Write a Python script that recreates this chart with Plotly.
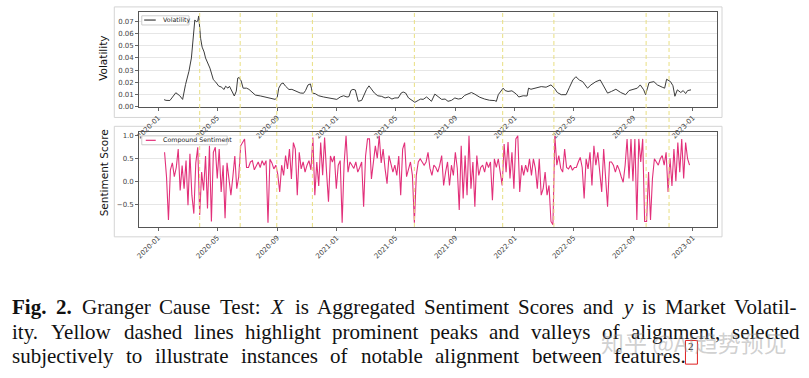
import pandas as pd
import plotly.graph_objects as go

W, H = 809, 378

vol_dates = [
    "2020-01-13", "2020-01-17", "2020-01-25", "2020-02-06", "2020-02-14", "2020-02-20", "2020-02-26",
    "2020-03-04", "2020-03-09", "2020-03-12", "2020-03-14", "2020-03-16", "2020-03-19", "2020-03-22",
    "2020-03-24", "2020-03-25", "2020-03-28", "2020-03-31", "2020-04-04", "2020-04-07", "2020-04-12",
    "2020-04-16", "2020-04-19", "2020-04-23", "2020-04-28", "2020-05-04", "2020-05-09", "2020-05-15",
    "2020-05-18", "2020-05-23", "2020-05-26", "2020-06-01", "2020-06-05", "2020-06-09", "2020-06-12",
    "2020-06-15", "2020-06-19", "2020-06-23", "2020-06-30", "2020-07-05", "2020-07-12", "2020-07-18",
    "2020-07-29", "2020-08-08", "2020-08-18", "2020-08-28", "2020-09-01", "2020-09-04", "2020-09-09",
    "2020-09-13", "2020-09-18", "2020-09-25", "2020-10-01", "2020-10-08", "2020-10-11", "2020-10-18",
    "2020-10-25", "2020-10-29", "2020-11-03", "2020-11-08", "2020-11-10", "2020-11-12", "2020-11-18",
    "2020-11-25", "2020-12-05", "2020-12-15", "2020-12-25", "2021-01-01", "2021-01-08", "2021-01-15",
    "2021-01-22", "2021-01-26", "2021-01-30", "2021-02-03", "2021-02-08", "2021-02-11", "2021-02-14",
    "2021-02-21", "2021-02-27", "2021-03-03", "2021-03-08", "2021-03-14", "2021-03-19", "2021-03-26",
    "2021-04-03", "2021-04-10", "2021-04-17", "2021-04-24", "2021-04-30", "2021-05-07", "2021-05-13",
    "2021-05-17", "2021-05-22", "2021-05-28", "2021-06-03", "2021-06-10", "2021-06-17", "2021-06-22",
    "2021-06-27", "2021-07-04", "2021-07-09", "2021-07-14", "2021-07-21", "2021-07-28", "2021-08-04",
    "2021-08-11", "2021-08-17", "2021-08-24", "2021-08-31", "2021-09-07", "2021-09-14", "2021-09-20",
    "2021-09-27", "2021-10-04", "2021-10-11", "2021-10-21", "2021-10-31", "2021-11-10", "2021-11-21",
    "2021-11-24", "2021-11-28", "2021-12-03", "2021-12-08", "2021-12-12", "2021-12-18", "2021-12-26",
    "2022-01-04", "2022-01-09", "2022-01-18", "2022-01-26", "2022-01-29", "2022-02-03", "2022-02-14",
    "2022-02-24", "2022-03-06", "2022-03-16", "2022-03-23", "2022-03-29", "2022-04-06", "2022-04-16",
    "2022-04-23", "2022-04-30", "2022-05-06", "2022-05-13", "2022-05-20", "2022-05-30", "2022-06-06",
    "2022-06-16", "2022-06-25", "2022-07-03", "2022-07-10", "2022-07-18", "2022-07-27", "2022-08-06",
    "2022-08-16", "2022-08-23", "2022-09-02", "2022-09-09", "2022-09-15", "2022-09-22", "2022-09-26",
    "2022-10-03", "2022-10-13", "2022-10-20", "2022-10-30", "2022-11-04", "2022-11-08", "2022-11-16",
    "2022-11-21", "2022-11-25", "2022-11-30", "2022-12-07", "2022-12-12", "2022-12-17", "2022-12-21",
    "2022-12-28",
]
vol_values = [
    0.0055, 0.0049, 0.0048, 0.0112, 0.0088, 0.0057, 0.0180,
    0.0290, 0.0400, 0.0530, 0.0670, 0.0715, 0.0700, 0.0705,
    0.0748, 0.0690, 0.0560, 0.0490, 0.0450, 0.0400, 0.0357,
    0.0316, 0.0275, 0.0220, 0.0200, 0.0167, 0.0160, 0.0139,
    0.0166, 0.0150, 0.0166, 0.0112, 0.0085, 0.0125, 0.0234,
    0.0238, 0.0210, 0.0150, 0.0150, 0.0140, 0.0112, 0.0093,
    0.0085, 0.0077, 0.0065, 0.0057, 0.0077, 0.0150, 0.0186,
    0.0193, 0.0166, 0.0139, 0.0140, 0.0125, 0.0118, 0.0110,
    0.0108, 0.0131, 0.0177, 0.0185, 0.0150, 0.0110, 0.0104,
    0.0087, 0.0077, 0.0069, 0.0060, 0.0057, 0.0077, 0.0087,
    0.0077, 0.0080, 0.0131, 0.0140, 0.0135, 0.0080, 0.0041,
    0.0049, 0.0110, 0.0140, 0.0169, 0.0131, 0.0110, 0.0087,
    0.0082, 0.0069, 0.0077, 0.0060, 0.0069, 0.0069, 0.0110,
    0.0118, 0.0110, 0.0069, 0.0049, 0.0033, 0.0049, 0.0060,
    0.0057, 0.0077, 0.0060, 0.0041, 0.0101, 0.0077, 0.0057,
    0.0060, 0.0041, 0.0049, 0.0069, 0.0060, 0.0065, 0.0090,
    0.0105, 0.0114, 0.0100, 0.0075, 0.0060, 0.0050, 0.0047,
    0.0040, 0.0096, 0.0123, 0.0150, 0.0130, 0.0123, 0.0128,
    0.0101, 0.0077, 0.0087, 0.0085, 0.0150, 0.0141, 0.0150,
    0.0163, 0.0158, 0.0177, 0.0150, 0.0114, 0.0096, 0.0096,
    0.0158, 0.0218, 0.0245, 0.0218, 0.0204, 0.0150, 0.0177,
    0.0204, 0.0218, 0.0163, 0.0109, 0.0123, 0.0141, 0.0114,
    0.0096, 0.0130, 0.0141, 0.0150, 0.0177, 0.0136, 0.0096,
    0.0196, 0.0204, 0.0177, 0.0158, 0.0150, 0.0224, 0.0204,
    0.0170, 0.0083, 0.0136, 0.0114, 0.0130, 0.0105, 0.0130,
    0.0136,
]

sent_values = [
    0.63, 0.1, -0.84, 0.25, 0.4, 0.1, 0.3, 0.7, -0.2, 0.34,
    -0.16, 0.45, -0.52, 0.6, -0.3, -0.7, 0.4, 0.74, -0.73, 0.2,
    -0.2, 0.55, -0.59, 0.77, -0.87, 0.63, 0.74, 0.06, 0.7, -0.23,
    0.35, -0.8, 0.4, 0.1, -0.3, 0.1, 0.55, -0.16, 0.1, 0.77,
    0.84, 0.92, 0.3, 0.3, 0.42, 0.45, 0.25, 0.35, 0.42, 0.3,
    0.45, 0.35, 0.45, -0.9, 0.48, 0.4, 0.27, 0.35, 0.15, -0.23,
    0.35, 0.13, 0.56, 0.27, 0.7, 0.05, 0.84, 0.7, -0.3, 0.63,
    0.27, 0.42, 0.2, 0.35, 0.45, 0.25, 0.95, -0.3, 0.42, -0.1,
    0.84, 0.13, 0.95, 0.2, -0.44, 0.55, 0.42, 0.55, -0.16, 0.35,
    0.45, -0.9, 0.38, 0.99, 0.2, 0.42, 0.35, 0.28, 0.42, 0.2,
    0.3, 0.42, -0.55, 0.55, 0.92, 0.92, 0.05, 0.49, 0.77, 0.5,
    0.99, 0.4, 0.7, 0.27, -0.05, 0.56, 0.35, 0.2, 0.35, 0.13,
    0.55, -0.3, 0.7, 0.84, 0.1, 0.27, 0.42, 0.13, -0.9, 0.13,
    0.42, 0.49, 0.42, 0.35, 0.42, 0.63, 0.28, 0.13, 0.35, 0.3,
    0.2, 0.35, 0.56, -0.09, 0.2, 0.42, -0.09, 0.35, 0.13, 0.63,
    0.28, -0.62, 0.77, -0.37, 0.56, -0.3, 0.99, -0.16, 0.42, -0.55,
    0.56, 0.13, 0.3, 0.35, 0.2, 0.42, 0.3, 0.42, -0.41, 0.49,
    0.3, 0.49, 0.2, -0.09, 0.81, 0.2, 0.85, 0.06, 0.63, -0.16,
    0.92, 0.99, -0.23, 0.35, 0.13, 0.35, 0.2, 0.49, 0.13, 0.49,
    0.28, -0.16, 0.49, -0.3, -0.16, 0.2, -0.3, -0.09, -0.87, -0.94,
    0.99, 0.35, 0.56, 0.28, 0.2, 0.7, 0.3, 0.27, 0.35, 0.24,
    0.3, 0.3, 0.42, 0.52, 0.3, -0.37, 0.49, 0.27, 0.63, -0.09,
    0.77, 0.35, 0.63, 0.2, -0.23, 0.7, 0.1, -0.55, 0.42, 0.42,
    0.35, 0.2, 0.35, 0.25, 0.1, -0.02, 0.35, 0.92, 0.06, 0.92,
    0.0, 0.92, -0.84, 0.92, 0.42, 0.92, -0.87, -0.87, 0.2, -0.84,
    0.06, 0.49, 0.42, 0.35, 0.49, 0.56, 0.35, 0.63, -0.23, 0.5,
    -0.1, 0.7, 0.0, 0.84, 0.2, 0.92, 0.06, 0.84, 0.49, 0.35,
]
sent_dates = pd.date_range("2020-01-14", periods=len(sent_values), freq="4D")

highlight_dates = ["2020-03-26", "2020-06-17", "2020-08-31", "2020-11-12", "2021-06-09",
                   "2021-12-07", "2022-03-22", "2022-09-27", "2022-11-13"]

x_tick_dates = ["2020-01-01", "2020-05-01", "2020-09-01", "2021-01-01", "2021-05-01", "2021-09-01",
                "2022-01-01", "2022-05-01", "2022-09-01", "2023-01-01"]
vol_ticks = [0.0, 0.01, 0.02, 0.03, 0.04, 0.05, 0.06, 0.07]
sent_ticks = [-0.5, 0.0, 0.5, 1.0]
sent_tick_text = ["\u22120.5", "0.0", "0.5", "1.0"]

caption_lines = [
    [("Fig.", "b"), ("2.", "b"), ("Granger", ""), ("Cause", ""), ("Test:", ""), ("X", "i"),
     ("is", ""), ("Aggregated", ""), ("Sentiment", ""), ("Scores", ""), ("and", ""), ("y", "i"),
     ("is", ""), ("Market", ""), ("Volatil-", "")],
    [("ity.", ""), ("Yellow", ""), ("dashed", ""), ("lines", ""), ("highlight", ""),
     ("prominent", ""), ("peaks", ""), ("and", ""), ("valleys", ""), ("of", ""),
     ("alignment,", ""), ("selected", "")],
    [("subjectively", ""), ("to", ""), ("illustrate", ""), ("instances", ""), ("of", ""),
     ("notable", ""), ("alignment", ""), ("between", ""), ("features.", "")],
]


def px(x):
    return x / W


def py(y):
    return 1 - y / H


TW = dict(zip("abcdefghijklmnopqrstuvwxyz",
              [444, 500, 444, 500, 444, 333, 500, 500, 278, 278, 500, 278, 778, 500, 500, 500,
               500, 333, 389, 278, 500, 500, 722, 500, 500, 444]))
TW.update(dict(zip("ABCDEFGHIJKLMNOPQRSTUVWXYZ",
                   [722, 667, 667, 722, 611, 556, 722, 722, 333, 389, 722, 611, 889, 722, 722,
                    556, 722, 667, 556, 611, 722, 722, 944, 722, 722, 611])))
TW.update({".": 250, ",": 250, ":": 278, "-": 333, "2": 500, " ": 250})


def word_width(w, size, style):
    f = 1.06 if style == "b" else 1.0
    return sum(TW.get(c, 500) for c in w) / 1000 * size * f


VOL_COLOR = "#3c3c3c"
SENT_COLOR = "#e2307a"
HL_COLOR = "#e9df80"
TICK_FONT = dict(family="DejaVu Sans", size=7, color="#444444")

fig = go.Figure()
fig.add_trace(go.Scatter(x=vol_dates, y=vol_values, mode="lines", name="Volatility",
                         line=dict(color=VOL_COLOR, width=1), xaxis="x", yaxis="y",
                         showlegend=False))
fig.add_trace(go.Scatter(x=sent_dates, y=sent_values, mode="lines", name="Compound Sentiment",
                         line=dict(color=SENT_COLOR, width=1.1), xaxis="x2", yaxis="y2",
                         showlegend=False))

x_dom = [px(136.7), px(717)]
common_x = dict(type="date", range=["2019-11-23", "2023-02-20"], tickvals=x_tick_dates,
                tickformat="%Y-%m", tickangle=-45, ticks="outside", ticklen=3, tickcolor="#666",
                showline=True, mirror=True, linecolor="#555", linewidth=1, showgrid=False,
                zeroline=False, tickfont=TICK_FONT, domain=x_dom)
common_y = dict(ticks="outside", ticklen=3, tickcolor="#666", showline=True, mirror=True,
                linecolor="#555", linewidth=1, showgrid=True, gridcolor="#e6e6e6", gridwidth=1,
                zeroline=False, tickfont=TICK_FONT)

fig.update_layout(
    width=W, height=H, margin=dict(l=0, r=0, t=0, b=0),
    paper_bgcolor="white", plot_bgcolor="white", showlegend=False,
    xaxis=dict(common_x, anchor="y"),
    yaxis=dict(common_y, anchor="x", domain=[py(107.3), py(11)], range=[-0.0005, 0.0782],
               tickvals=vol_ticks, tickformat=".2f"),
    xaxis2=dict(common_x, anchor="y2"),
    yaxis2=dict(common_y, anchor="x2", domain=[py(229), py(133)], range=[-0.99, 1.065],
                tickvals=sent_ticks, ticktext=sent_tick_text),
)

shapes = []
for (y0, y1) in [(6, 118), (127, 239)]:
    shapes.append(dict(type="rect", xref="paper", yref="paper", x0=px(111.7), x1=px(721.7),
                       y0=py(y1), y1=py(y0), line=dict(color="#d4d4d4", width=1), layer="below"))
for d in highlight_dates:
    shapes.append(dict(type="line", xref="x", yref="paper", x0=d, x1=d, y0=py(229), y1=py(11),
                       line=dict(color=HL_COLOR, width=1, dash="4px,3px"), layer="above"))
shapes.append(dict(type="rect", xref="paper", yref="paper", x0=px(139.3), x1=px(186.7),
                   y0=py(24.3), y1=py(15), fillcolor="white", line=dict(color="#cccccc", width=1),
                   layer="above"))
shapes.append(dict(type="line", xref="paper", yref="paper", x0=px(141.7), x1=px(153.3),
                   y0=py(19.3), y1=py(19.3), line=dict(color=VOL_COLOR, width=1.2), layer="above"))
shapes.append(dict(type="rect", xref="paper", yref="paper", x0=px(139.3), x1=px(225),
                   y0=py(145.7), y1=py(136.7), fillcolor="white", line=dict(color="#cccccc", width=1),
                   layer="above"))
shapes.append(dict(type="line", xref="paper", yref="paper", x0=px(143.3), x1=px(153.3),
                   y0=py(141.2), y1=py(141.2), line=dict(color=SENT_COLOR, width=1.2), layer="above"))
shapes.append(dict(type="rect", xref="paper", yref="paper", x0=px(685), x1=px(697),
                   y0=py(368), y1=py(344), line=dict(color="#e02020", width=1)))

annotations = []
annotations.append(dict(text="Volatility", xref="paper", yref="paper", x=px(158.3), y=py(19.5),
                        xanchor="left", yanchor="middle", showarrow=False,
                        font=dict(family="DejaVu Sans", size=6.3, color="#222")))
annotations.append(dict(text="Compound Sentiment", xref="paper", yref="paper", x=px(158.3),
                        y=py(141.2), xanchor="left", yanchor="middle", showarrow=False,
                        font=dict(family="DejaVu Sans", size=6.3, color="#222")))
annotations.append(dict(text="Volatility", xref="paper", yref="paper", x=px(101), y=py(58),
                        textangle=-90, xanchor="center", yanchor="middle", showarrow=False,
                        font=dict(family="DejaVu Sans", size=10.5, color="#111")))
annotations.append(dict(text="Sentiment Score", xref="paper", yref="paper", x=px(101), y=py(174),
                        textangle=-90, xanchor="center", yanchor="middle", showarrow=False,
                        font=dict(family="DejaVu Sans", size=10.5, color="#111")))

CAP_SIZE = 21
CAP_FONT = dict(family="Liberation Serif", size=CAP_SIZE, color="#111")
line_spans = [(8, 798), (8, 798), (8, 684)]
line_centers = [310, 335, 359.5]
for words, (xs, xe), yc in zip(caption_lines, line_spans, line_centers):
    widths = [word_width(w, CAP_SIZE, s) for w, s in words]
    gap = (xe - xs - sum(widths)) / (len(words) - 1)
    xcur = xs
    for (w, s), ww in zip(words, widths):
        txt = f"<b>{w}</b>" if s == "b" else (f"<i>{w}</i>" if s == "i" else w)
        annotations.append(dict(text=txt, xref="paper", yref="paper", x=px(xcur), y=py(yc),
                                xanchor="left", yanchor="middle", showarrow=False,
                                borderpad=0, font=CAP_FONT))
        xcur += ww + gap

annotations.append(dict(text="2", xref="paper", yref="paper", x=px(691), y=py(350),
                        xanchor="center", yanchor="middle", showarrow=False,
                        font=dict(family="Liberation Serif", size=11, color="#111")))
annotations.append(dict(text="知乎 @AI趋势预见", xref="paper", yref="paper", x=px(694), y=py(346),
                        xanchor="center", yanchor="middle", showarrow=False,
                        font=dict(family="Noto Sans CJK SC", size=23, color="rgba(150,150,150,0.45)")))

fig.update_layout(shapes=shapes, annotations=annotations)
fig.write_html("out.html", config={"displayModeBar": False},
               post_script="document.body.style.margin='0px';")
